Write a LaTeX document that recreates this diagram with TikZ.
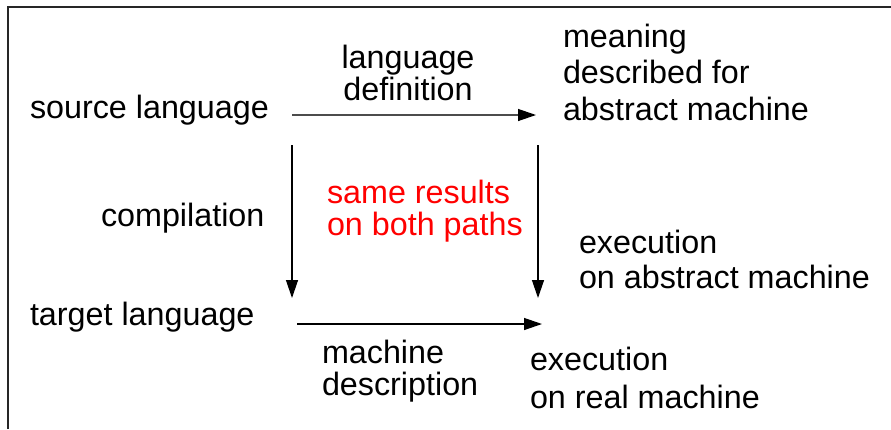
\documentclass[tikz,border=0pt]{standalone}
\usepackage{fontspec}
\setmainfont{Liberation Sans}
\usetikzlibrary{arrows.meta}
\tikzset{
  lbl/.style={anchor=base west, inner sep=0pt, outer sep=0pt, align=left, font=\fontsize{32.3}{36}\selectfont},
  conn/.style={line width=1.3pt, -{Triangle[length=18pt,width=12pt,color=black]}},
  frame/.style={line width=1.5pt, draw=black!85}
}
\begin{document}
\begin{tikzpicture}[x=1pt,y=-1pt]
\useasboundingbox (0,0) rectangle (891,429);
\draw[frame] (8,429) -- (8,7) -- (891,7);
% text
\node[lbl] (src) at (30,118) {source language};
\node[lbl] (tgt) at (30,325) {target language};
\node[lbl] (comp) at (101,226) {compilation};
\node[lbl, align=center, anchor=base] (ldef1) at (408,68) {language};
\node[lbl, align=center, anchor=base] (ldef2) at (408,100) {definition};
\node[lbl] (mean1) at (563,47) {meaning};
\node[lbl] (mean2) at (563,83) {described for};
\node[lbl] (mean3) at (563,120) {abstract machine};
\node[lbl, text=red] (same1) at (327,203) {same results};
\node[lbl, text=red] (same2) at (327,235) {on both paths};
\node[lbl] (exa1) at (579,253) {execution};
\node[lbl] (exa2) at (579,288) {on abstract machine};
\node[lbl] (mdesc1) at (322,363) {machine};
\node[lbl] (mdesc2) at (322,395) {description};
\node[lbl] (exr1) at (530,370) {execution};
\node[lbl] (exr2) at (530,408) {on real machine};
% arrow end points
\coordinate (tl) at (292,115);
\coordinate (tr) at (536,115);
\coordinate (ls) at (292,145);
\coordinate (le) at (292,298);
\coordinate (rs) at (538,145);
\coordinate (re) at (538,298);
\coordinate (bl) at (297,324);
\coordinate (br) at (542,324);
\draw[conn, draw=black!70] (tl) -- (tr);
\draw[conn] (ls) -- (le);
\draw[conn] (rs) -- (re);
\draw[conn] (bl) -- (br);
\end{tikzpicture}
\end{document}
